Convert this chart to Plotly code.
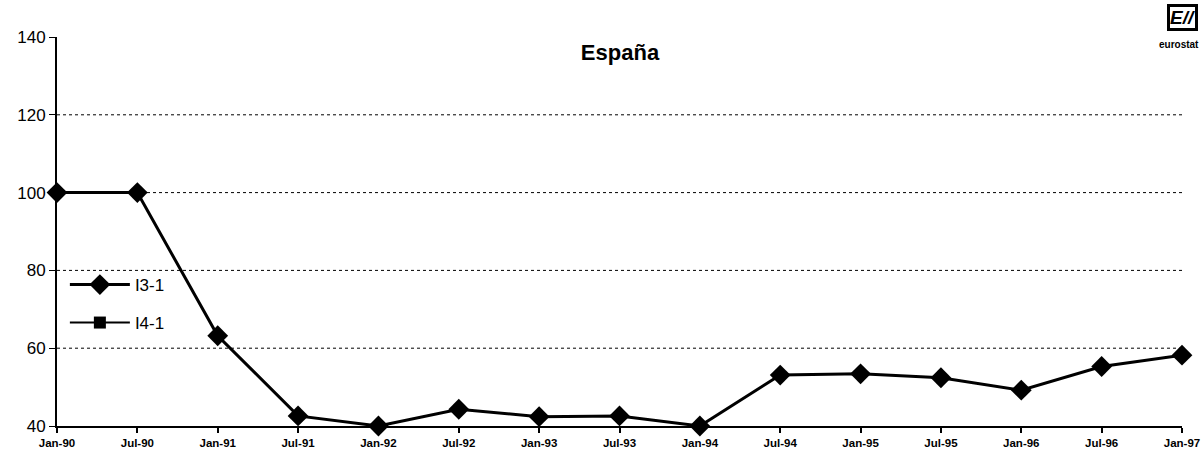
import plotly.graph_objects as go

months = ["Jan-90", "Jul-90", "Jan-91", "Jul-91", "Jan-92", "Jul-92", "Jan-93", "Jul-93",
          "Jan-94", "Jul-94", "Jan-95", "Jul-95", "Jan-96", "Jul-96", "Jan-97"]
i3_1 = [100, 100, 63.2, 42.6, 40.0, 44.3, 42.4, 42.6, 40.0, 53.1, 53.4, 52.4, 49.2, 55.3, 58.2]
i4_1 = [None] * len(months)

xpos = list(range(len(months)))

fig = go.Figure()
fig.add_trace(go.Scatter(
    x=xpos, y=i3_1, name="I3-1", mode="lines+markers",
    line=dict(color="black", width=3),
    marker=dict(symbol="diamond", size=16, color="black"),
    cliponaxis=False, legend="legend",
))
fig.add_trace(go.Scatter(
    x=xpos, y=i4_1, name="I4-1", mode="lines+markers",
    line=dict(color="black", width=2),
    marker=dict(symbol="square", size=12, color="black"),
    cliponaxis=False, legend="legend2",
))

leg_common = dict(xanchor="left", yanchor="middle", bgcolor="rgba(0,0,0,0)",
                  font=dict(size=17, color="black"), itemwidth=60)

L, R, T, B = 57, 20, 37, 33
PW, PH = 1202 - L - R, 459 - T - B

fig.update_layout(
    width=1202, height=459,
    margin=dict(l=L, r=R, t=T, b=B),
    paper_bgcolor="white", plot_bgcolor="white",
    font=dict(family="Arial, Liberation Sans, sans-serif", color="black"),
    title=dict(text="<b>España</b>", x=(620 - L) / PW, xref="paper", xanchor="center",
               y=0.885, yanchor="middle", font=dict(size=22, color="black")),
    showlegend=True,
    legend=dict(x=0.007, y=(426 - 285) / PH, **leg_common),
    legend2=dict(x=0.007, y=(426 - 323) / PH, **leg_common),
    xaxis=dict(
        range=[0, len(months) - 1], tickmode="array", tickvals=xpos, ticktext=months,
        tickfont=dict(size=11.5, color="black", weight="bold"),
        showline=True, linecolor="black", linewidth=2,
        ticks="outside", ticklen=5, tickcolor="black", tickwidth=1.5,
        showgrid=False, zeroline=False, automargin=False, ticklabeloverflow="allow",
    ),
    yaxis=dict(
        range=[40, 140], tickvals=[40, 60, 80, 100, 120, 140],
        tickfont=dict(size=17, color="black"),
        showline=True, linecolor="black", linewidth=2,
        ticks="outside", ticklen=6, tickcolor="black",
        showgrid=False, zeroline=False, automargin=False,
    ),
)

for g in [60, 80, 100, 120]:
    fig.add_shape(type="line", xref="paper", yref="y", x0=0, x1=1, y0=g, y1=g,
                  line=dict(color="black", width=1, dash="dot"), layer="below")

# eurostat logo approximation
fig.add_annotation(xref="paper", yref="paper", x=(1198 - L) / PW, y=(426 - 4) / PH,
                   xanchor="right", yanchor="top",
                   text="<b><i>E//</i></b>", showarrow=False, font=dict(size=19, color="black"),
                   bordercolor="black", borderwidth=3, borderpad=0)
fig.add_annotation(xref="paper", yref="paper", x=(1201 - L) / PW, y=(426 - 37) / PH,
                   xanchor="right", yanchor="top",
                   text="<b>eurostat</b>", showarrow=False, font=dict(size=10, color="black"))

fig.write_html("out.html", config={"displayModeBar": False},
               post_script="document.body.style.margin='0';document.body.style.overflow='hidden';")
